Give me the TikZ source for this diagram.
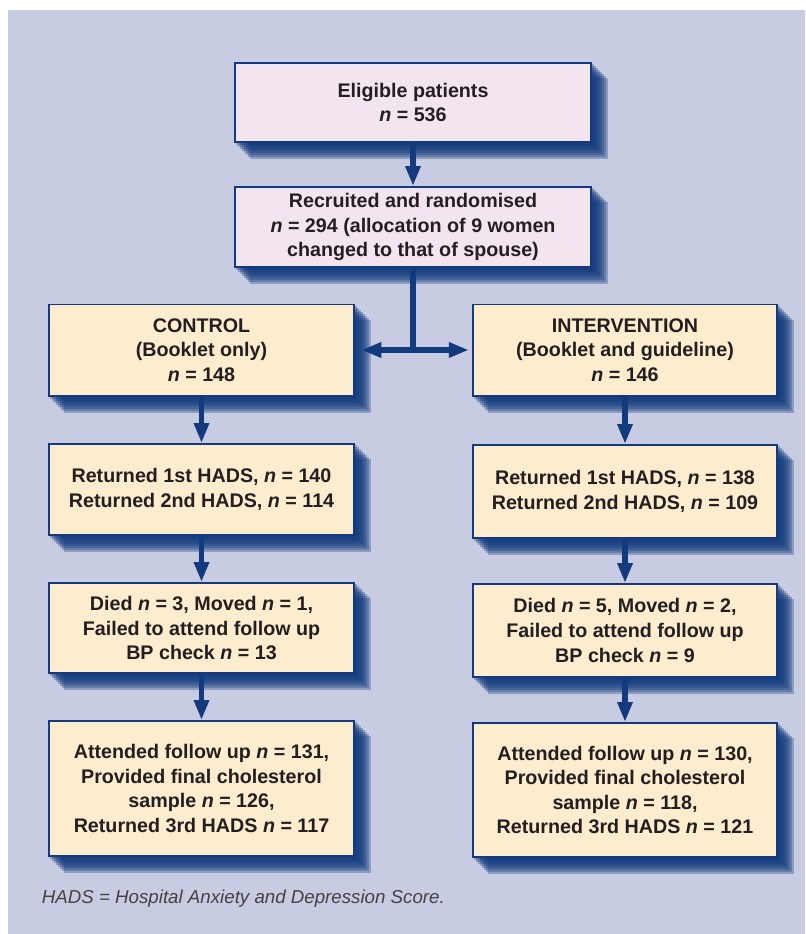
\documentclass[tikz,border=0pt]{standalone}
\usepackage{fontspec}
\setmainfont{Liberation Sans}
\usepackage{xcolor}
\usetikzlibrary{arrows.meta,backgrounds,calc}

\definecolor{bgblue}{RGB}{199,204,226}
\definecolor{navy}{RGB}{18,58,124}
\definecolor{peach}{RGB}{253,236,206}
\definecolor{pinkish}{RGB}{243,229,240}
\definecolor{txt}{RGB}{35,31,32}

\begin{document}
\begin{tikzpicture}[
  x=0.025cm, y=-0.025cm,
  font=\fontsize{14}{17.5}\selectfont\bfseries, text=txt,
  box/.style={draw=navy, line width=1.4pt, align=center, inner sep=0pt},
  topbox/.style={box, fill=pinkish, minimum width=8.9cm},
  armbox/.style={box, fill=peach, minimum width=7.6cm},
  flow/.style={navy, line width=4.2pt, -{Triangle[length=0.5cm, width=0.36cm]}},
  shade/.style={fill=navy, opacity=.32},
]
\useasboundingbox (0,0) rectangle (805,934);

% top of the trial
\node[topbox, minimum height=1.975cm] (elig) at (413,102.5) {Eligible patients\\\textit{n} = 536};
\node[topbox, minimum height=2cm] (recr) at (413,227) {Recruited and randomised\\\textit{n} = 294 (allocation of 9 women\\changed to that of spouse)};
\draw[flow] (elig) -- (recr);

% the two arms
\node[armbox, minimum height=2.275cm] (ctrl) at (201.5,350) {CONTROL\\(Booklet only)\\\textit{n} = 148};
\node[armbox, minimum height=2.275cm] (intv) at (625,350) {INTERVENTION\\(Booklet and guideline)\\\textit{n} = 146};
\coordinate (split) at (413,350);
\draw[navy, line width=4.2pt] (recr.south) -- (split);
\draw[flow, shorten >=0.17cm] (split) -- (ctrl.east);
\draw[flow, shorten >=0.08cm] (split) -- (intv.west);

% control arm
\node[armbox, minimum height=2.275cm] (chads) at (201.5,489.5) {Returned 1st HADS, \textit{n} = 140\\Returned 2nd HADS, \textit{n} = 114};
\node[armbox, minimum height=2.25cm] (cdied) at (201.5,628) {Died \textit{n} = 3, Moved \textit{n} = 1,\\Failed to attend follow up\\BP check \textit{n} = 13};
\node[armbox, minimum height=3.375cm] (cfin) at (201.5,788.5) {Attended follow up \textit{n} = 131,\\Provided final cholesterol\\sample \textit{n} = 126,\\Returned 3rd HADS \textit{n} = 117};
\draw[flow] (ctrl) -- (chads);
\draw[flow] (chads) -- (cdied);
\draw[flow] (cdied) -- (cfin);

% intervention arm
\node[armbox, minimum height=2.325cm] (ihads) at (625,491.5) {Returned 1st HADS, \textit{n} = 138\\Returned 2nd HADS, \textit{n} = 109};
\node[armbox, minimum height=2.325cm] (idied) at (625,630.5) {Died \textit{n} = 5, Moved \textit{n} = 2,\\Failed to attend follow up\\BP check \textit{n} = 9};
\node[armbox, minimum height=3.35cm] (ifin) at (625,790) {Attended follow up \textit{n} = 130,\\Provided final cholesterol\\sample \textit{n} = 118,\\Returned 3rd HADS \textit{n} = 121};
\draw[flow] (intv) -- (ihads);
\draw[flow] (ihads) -- (idied);
\draw[flow] (idied) -- (ifin);

\node[font=\fontsize{13.3}{16}\selectfont\normalfont\itshape, text=txt!85, anchor=west] (note) at (37,899) {HADS = Hospital Anxiety and Depression Score.};

% page colour and soft shadows behind the boxes
\begin{scope}[on background layer]
\fill[bgblue] (8,10) rectangle (805,934);
\foreach \b in {elig,recr,ctrl,intv,chads,cdied,cfin,ihads,idied,ifin}
  \foreach \d in {2,4,...,16}
    \fill[shade] ($(\b.north west)+(\d,\d)$) rectangle ($(\b.south east)+(\d,\d)$);
\end{scope}
\end{tikzpicture}
\end{document}
